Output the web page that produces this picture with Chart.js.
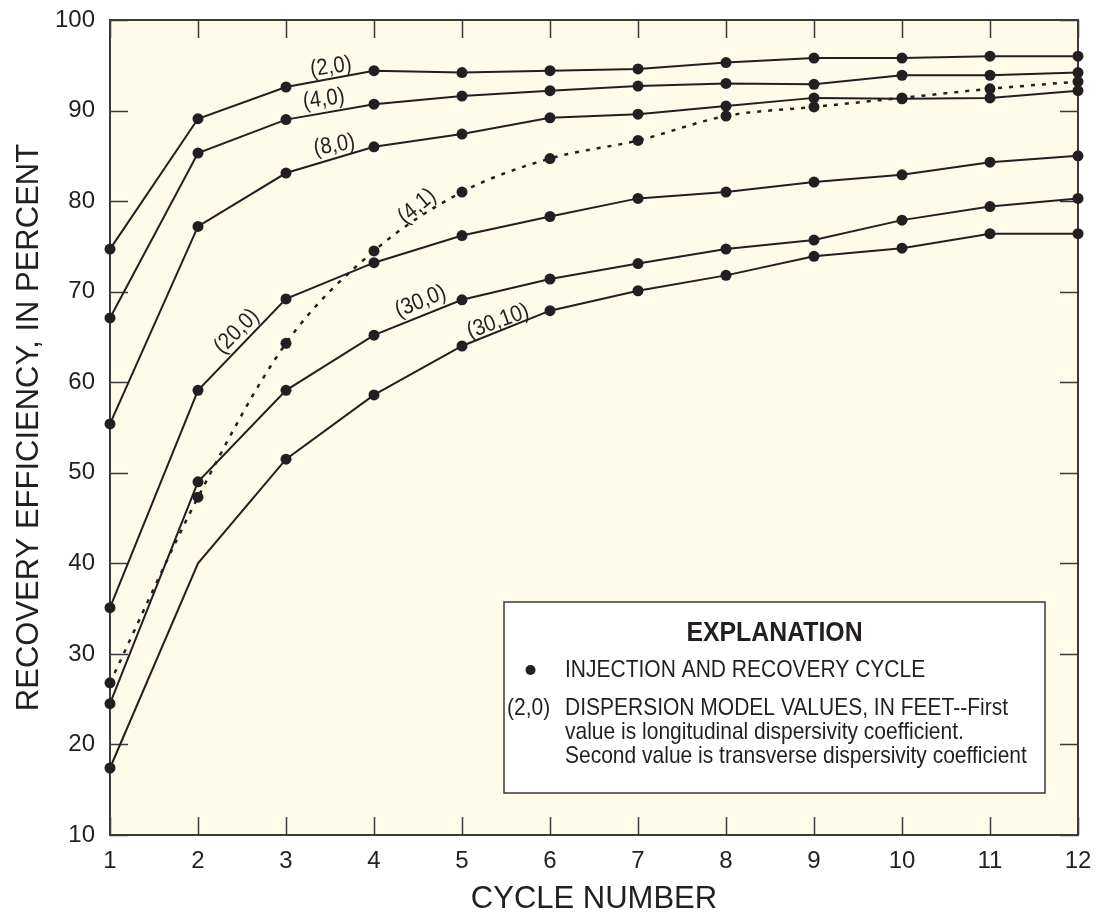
<!DOCTYPE html>
<html>
<head>
<meta charset="utf-8">
<script src="https://cdn.jsdelivr.net/npm/chart.js@4/dist/chart.umd.min.js"></script>
<style>
  html, body { margin: 0; padding: 0; background: #ffffff; }
  #wrap { width: 1097px; height: 915px; position: relative; }
</style>
</head>
<body>
<div id="wrap"><canvas id="c" width="1097" height="915"></canvas></div>
<script>
// ---- Data ----
const cycles = [1, 2, 3, 4, 5, 6, 7, 8, 9, 10, 11, 12];
const s2_0  = [74.7, 89.1, 92.6, 94.4, 94.2, 94.4, 94.6, 95.3, 95.8, 95.8, 96.0, 96.0];
const s4_0  = [67.1, 85.3, 89.0, 90.7, 91.6, 92.2, 92.7, 93.0, 92.9, 93.9, 93.9, 94.2];
const s8_0  = [55.4, 77.2, 83.1, 86.0, 87.4, 89.2, 89.6, 90.5, 91.4, 91.3, 91.4, 92.2];
const s4_1  = [26.8, 47.3, 64.3, 74.5, 81.0, 84.7, 86.7, 89.4, 90.4, 91.4, 92.4, 93.2];
const s20_0 = [35.1, 59.1, 69.2, 73.2, 76.2, 78.3, 80.3, 81.0, 82.1, 82.9, 84.3, 85.0];
const s30_0 = [24.5, 49.0, 59.1, 65.2, 69.1, 71.4, 73.1, 74.7, 75.7, 77.9, 79.4, 80.3];
const s30_10 = [17.4, 40.0, 51.5, 58.6, 64.0, 67.9, 70.1, 71.8, 73.9, 74.8, 76.4, 76.4];
// cycle 2 of (30,10) has no plotted dot in the reference
const s30_10_dots = [1, 0, 1, 1, 1, 1, 1, 1, 1, 1, 1, 1];

const yTicks = [10, 20, 30, 40, 50, 60, 70, 80, 90, 100];

// curve labels: [text, cycle, value, rotation(deg)]
const curveLabels = [
  ['(2,0)', 3.51, 94.8, -8],
  ['(4,0)', 3.43, 91.25, -8],
  ['(8,0)', 3.55, 86.15, -10],
  ['(4,1)', 4.49, 79.4, -40],
  ['(20,0)', 2.44, 65.6, -45],
  ['(30,0)', 4.53, 68.9, -22],
  ['(30,10)', 5.41, 66.7, -20]
];

const INK = '#231f20';
const CREAM = '#fefbe8';
const FONT = '"Liberation Sans", Arial, Helvetica, sans-serif';

function pts(arr) { return cycles.map((c, i) => ({ x: c, y: arr[i] })); }

function solid(arr, radii) {
  return {
    data: pts(arr),
    borderColor: INK,
    borderWidth: 2,
    backgroundColor: INK,
    pointBackgroundColor: INK,
    pointBorderWidth: 0,
    pointRadius: radii ? radii.map(r => r ? 5.5 : 0) : 5.5,
    pointHoverRadius: 5.5,
    tension: 0,
    clip: false
  };
}

const dotted = Object.assign(solid(s4_1), {
  borderDash: [4, 7],
  borderWidth: 2.5,
  tension: 0.35,
  cubicInterpolationMode: 'monotone'
});

function drawText(ctx, text, x, y, size, bold, sx, align, rot) {
  ctx.save();
  ctx.translate(x, y);
  if (rot) ctx.rotate(rot * Math.PI / 180);
  ctx.scale(sx, 1);
  ctx.font = (bold ? 'bold ' : '') + size + 'px ' + FONT;
  ctx.fillStyle = INK;
  ctx.textAlign = align;
  ctx.textBaseline = 'middle';
  ctx.fillText(text, 0, 0);
  ctx.restore();
}

const decor = {
  id: 'decor',
  beforeDraw(chart) {
    const { ctx, chartArea: a } = chart;
    ctx.save();
    ctx.fillStyle = CREAM;
    ctx.fillRect(a.left, a.top, a.right - a.left, a.bottom - a.top);
    ctx.restore();
  },
  beforeDatasetsDraw(chart) {
    const { ctx, chartArea: a, scales } = chart;
    ctx.save();
    ctx.strokeStyle = '#3a3a3a';
    ctx.lineWidth = 1.5;
    const TL = 18;
    ctx.beginPath();
    scales.x.ticks.forEach(t => {
      const px = Math.round(scales.x.getPixelForValue(t.value)) + 0.5;
      ctx.moveTo(px, a.bottom); ctx.lineTo(px, a.bottom - TL);
      ctx.moveTo(px, a.top); ctx.lineTo(px, a.top + TL);
    });
    scales.y.ticks.forEach(t => {
      const py = Math.round(scales.y.getPixelForValue(t.value)) + 0.5;
      ctx.moveTo(a.left, py); ctx.lineTo(a.left + TL, py);
      ctx.moveTo(a.right, py); ctx.lineTo(a.right - TL, py);
    });
    ctx.stroke();
    ctx.lineWidth = 2;
    ctx.strokeRect(a.left, a.top, a.right - a.left, a.bottom - a.top);
    ctx.restore();
  },
  afterDatasetsDraw(chart) {
    const { ctx, scales } = chart;
    // curve labels
    curveLabels.forEach(([t, cx, cy, rot]) => {
      drawText(ctx, t, scales.x.getPixelForValue(cx), scales.y.getPixelForValue(cy), 23, false, 0.88, 'center', rot);
    });
    // explanation box
    const bx = 504, by = 602, bw = 541, bh = 191;
    ctx.save();
    ctx.fillStyle = '#ffffff';
    ctx.fillRect(bx, by, bw, bh);
    ctx.strokeStyle = '#3a3a3a';
    ctx.lineWidth = 1.5;
    ctx.strokeRect(bx, by, bw, bh);
    ctx.fillStyle = INK;
    ctx.beginPath();
    ctx.arc(530.5, 670, 5, 0, Math.PI * 2);
    ctx.fill();
    ctx.restore();
    drawText(ctx, 'EXPLANATION', bx + bw / 2, 634, 27, true, 0.92, 'center', 0);
    drawText(ctx, 'INJECTION AND RECOVERY CYCLE', 565, 670, 24, false, 0.875, 'left', 0);
    drawText(ctx, '(2,0)', 507, 708, 24, false, 0.875, 'left', 0);
    drawText(ctx, 'DISPERSION MODEL VALUES, IN FEET--First', 565, 708, 24, false, 0.875, 'left', 0);
    drawText(ctx, 'value is longitudinal dispersivity coefficient.', 565, 732, 24, false, 0.875, 'left', 0);
    drawText(ctx, 'Second value is transverse dispersivity coefficient', 565, 756, 24, false, 0.875, 'left', 0);
  }
};

new Chart(document.getElementById('c'), {
  type: 'line',
  data: {
    datasets: [
      solid(s2_0), solid(s4_0), solid(s8_0), dotted,
      solid(s20_0), solid(s30_0), solid(s30_10, s30_10_dots)
    ]
  },
  options: {
    responsive: false,
    animation: false,
    events: [],
    layout: { padding: { top: 20, right: 19, left: 0, bottom: 0 } },
    plugins: { legend: { display: false }, tooltip: { enabled: false } },
    scales: {
      x: {
        type: 'linear', min: 1, max: 12,
        grid: { display: false, drawTicks: false },
        border: { display: false },
        ticks: { stepSize: 1, color: INK, font: { family: FONT, size: 24 }, padding: 12, maxRotation: 0 },
        title: { display: true, text: 'CYCLE NUMBER', color: INK, font: { family: FONT, size: 31, lineHeight: 1 }, padding: { top: 0, bottom: 0 } },
        afterFit: s => { s.height = 80; s.paddingLeft = 0; s.paddingRight = 0; }
      },
      y: {
        type: 'linear', min: 10, max: 100,
        afterBuildTicks: s => { s.ticks = yTicks.map(v => ({ value: v })); },
        grid: { display: false, drawTicks: false },
        border: { display: false },
        ticks: { color: INK, font: { family: FONT, size: 24 }, padding: 15 },
        title: { display: true, text: 'RECOVERY EFFICIENCY, IN PERCENT', color: INK, font: { family: FONT, size: 31, lineHeight: 1.2 }, padding: { top: 11, bottom: 0 } },
        afterFit: s => { s.width = 110; s.paddingTop = 0; s.paddingBottom = 0; }
      }
    }
  },
  plugins: [decor]
});
</script>
</body>
</html>
